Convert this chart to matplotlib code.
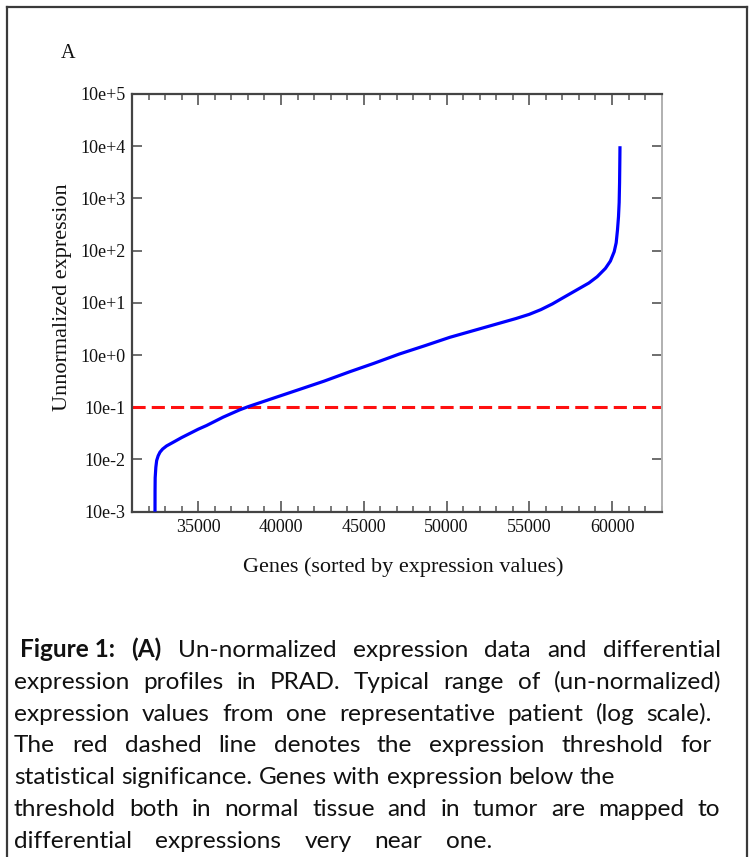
import numpy as np
import matplotlib
matplotlib.use("Agg")
import matplotlib.pyplot as plt
from matplotlib.ticker import FixedLocator, MultipleLocator, NullLocator
from matplotlib.lines import Line2D

# ---------------- data ----------------
gene_rank = [32390, 32392, 32400, 32440, 32490, 32580, 32690, 32850, 33090,
             33490, 34000, 34500, 35000, 35500, 36000, 36500, 37000, 37500,
             38000, 39500, 41100, 42600, 44150, 45600, 47150, 48700, 50200,
             51700, 53200, 54200, 55000, 55700, 56400, 57000, 57800, 58600,
             59100, 59600, 59900, 60130, 60250, 60330, 60390, 60430, 60455,
             60470, 60480]
expr_log10 = [-3.0, -2.6, -2.35, -2.15, -2.02, -1.93, -1.86, -1.80, -1.74,
              -1.67, -1.58, -1.50, -1.42, -1.35, -1.27, -1.19, -1.12, -1.05,
              -0.99, -0.83, -0.66, -0.50, -0.32, -0.16, 0.02, 0.18, 0.34,
              0.475, 0.61, 0.70, 0.78, 0.87, 0.98, 1.09, 1.235, 1.38,
              1.50, 1.66, 1.80, 1.98, 2.15, 2.40, 2.65, 2.92, 3.3,
              3.7, 4.0]
threshold = 0.1
y_exponents = [-3, -2, -1, 0, 1, 2, 3, 4, 5]
y_tick_labels = ["10e-3", "10e-2", "10e-1", "10e+0", "10e+1", "10e+2",
                 "10e+3", "10e+4", "10e+5"]
x_major_ticks = [35000, 40000, 45000, 50000, 55000, 60000]
x_tick_labels = ["35000", "40000", "45000", "50000", "55000", "60000"]

panel_label = "A"
x_label = "Genes (sorted by expression values)"
y_label = "Unnormalized expression"

caption_lines = [
    ([("Figure 1:", "bold"), ("(A)", "bold"), ("Un-normalized", "normal"),
      ("expression", "normal"), ("data", "normal"), ("and", "normal"),
      ("differential", "normal")], 20, 721),
    ("expression profiles in PRAD. Typical range of (un-normalized)", 14, 721),
    ("expression values from one representative patient (log scale).", 14, 712),
    ("The red dashed line denotes the expression threshold for", 14, 712),
    ("statistical significance. Genes with expression below the", 14, None),
    ("threshold both in normal tissue and in tumor are mapped to", 14, 720),
    ("differential expressions very near one.", 14, 492),
]

# ---------------- figure ----------------
W, H = 753, 857
fig = plt.figure(figsize=(W / 100, H / 100), dpi=100)
fig.patch.set_facecolor("white")


def fx(px):
    return px / W


def fy(py):
    return 1 - py / H


# outer frame
frame_col = "#3a3a3a"
for xs_, ys_ in [((7, 7), (7, 860)), ((7, 747), (7, 7)), ((747, 747), (7, 860))]:
    fig.add_artist(Line2D([fx(v) for v in xs_], [fy(v) for v in ys_],
                          transform=fig.transFigure, color=frame_col, lw=1.6))

ax_l, ax_r, ax_t, ax_b = 132, 661.7, 94, 511.7
ax = fig.add_axes([fx(ax_l), fy(ax_b), (ax_r - ax_l) / W, (ax_b - ax_t) / H])

xs = np.array(gene_rank, dtype=float)
ys = 10.0 ** np.array(expr_log10)
ax.plot(xs, ys, color="#0000ff", lw=2.3, solid_capstyle="butt",
        solid_joinstyle="round", zorder=3)
ax.axhline(threshold, color="#ff1010", lw=2.2, dashes=(4.3, 2.0), zorder=2)

ax.set_yscale("log")
ax.set_xlim(31000, 63000)
ax.set_ylim(10.0 ** y_exponents[0], 10.0 ** y_exponents[-1])

serif = ["Liberation Serif", "DejaVu Serif"]
yt = [10.0 ** e for e in y_exponents]
ax.yaxis.set_major_locator(FixedLocator(yt))
ax.yaxis.set_minor_locator(NullLocator())
ax.set_yticklabels(y_tick_labels, fontfamily=serif, fontsize=13)
ax.xaxis.set_major_locator(FixedLocator(x_major_ticks))
ax.set_xticklabels(x_tick_labels, fontfamily=serif, fontsize=13)
ax.xaxis.set_minor_locator(MultipleLocator(1000))

ax.tick_params(axis="y", which="major", direction="in", length=7.2, width=1.2,
               color="#555555", left=True, right=True, pad=4.5, labelcolor="#111111")
ax.tick_params(axis="x", which="major", direction="in", length=8.0, width=1.2,
               color="#555555", top=True, bottom=True, pad=5.0, labelcolor="#111111")
ax.tick_params(axis="x", which="minor", direction="in", length=4.3, width=1.1,
               color="#555555", top=True, bottom=True)

for side in ["left", "bottom", "top"]:
    ax.spines[side].set_color("#444444")
    ax.spines[side].set_linewidth(1.6)
ax.spines["right"].set_color("#b0b0b0")
ax.spines["right"].set_linewidth(1.4)

fig.text(fx(68), fy(53), panel_label, fontfamily=serif, fontsize=14.5,
         ha="center", va="center", color="#111111")
fig.text(fx(403), fy(567), x_label, fontfamily=serif, fontsize=16,
         ha="center", va="center", color="#111111")
fig.text(fx(62), fy(297), y_label, fontfamily=serif, fontsize=16, rotation=90,
         ha="center", va="center", color="#111111")

# ---------------- caption with justified lines ----------------
renderer = fig.canvas.get_renderer()
cap_font = ["Lato", "DejaVu Sans"]
cap_size = 17.6
base0, step = 657, 31.8


def width_of(s, weight):
    t = fig.text(0, 0, s, fontfamily=cap_font, fontsize=cap_size, fontweight=weight)
    w = t.get_window_extent(renderer).width
    t.remove()
    return w


space_w = width_of("x x", "normal") - width_of("xx", "normal")

for i, (content, x0, x1) in enumerate(caption_lines):
    if isinstance(content, str):
        words = [(w, "normal") for w in content.split()]
    else:
        words = content
    widths = [width_of(w, wt) for w, wt in words]
    if x1 is None or len(words) < 2:
        gap = space_w
    else:
        gap = (x1 - x0 - sum(widths)) / (len(words) - 1)
    yb = base0 + i * step
    x = x0
    for (w, wt), ww in zip(words, widths):
        fig.text(fx(x), fy(yb), w, fontfamily=cap_font, fontsize=cap_size,
                 fontweight=wt, ha="left", va="baseline", color="#111111")
        x += ww + gap

fig.savefig("out.png", dpi=100, facecolor="white")
